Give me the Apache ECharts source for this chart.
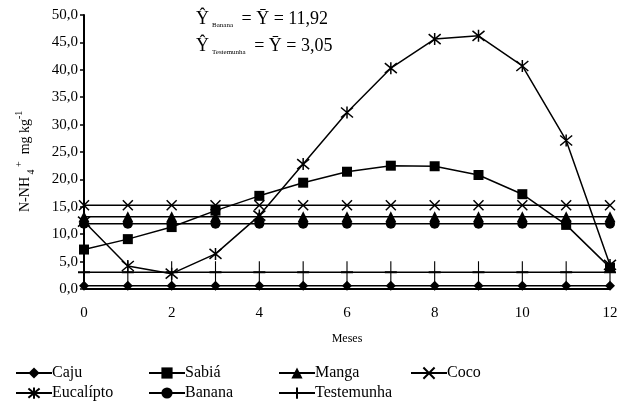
<!DOCTYPE html>
<html><head><meta charset="utf-8">
<script src="https://cdn.jsdelivr.net/npm/echarts@6/dist/echarts.min.js"></script>
<style>html,body{margin:0;padding:0;background:#fff}#c{width:626px;height:406px}</style>
</head><body><div id="c"></div>
<script>
const months = [0,1,2,3,4,5,6,7,8,9,10,11,12];
const caju = [0.6,0.6,0.6,0.6,0.6,0.6,0.6,0.6,0.6,0.6,0.6,0.6,0.6];
const sabia = [7.2,9.1,11.3,14.3,17.0,19.4,21.4,22.5,22.4,20.8,17.3,11.7,3.9];
const manga = [13.2,13.2,13.2,13.2,13.2,13.2,13.2,13.2,13.2,13.2,13.2,13.2,13.2];
const coco = [15.3,15.3,15.3,15.3,15.3,15.3,15.3,15.3,15.3,15.3,15.3,15.3,15.3];
const eucalipto = [12.3,4.2,2.8,6.4,13.4,22.8,32.2,40.3,45.6,46.2,40.7,27.1,4.4];
const banana = [11.92,11.92,11.92,11.92,11.92,11.92,11.92,11.92,11.92,11.92,11.92,11.92,11.92];
const testemunha = [3.05,3.05,3.05,3.05,3.05,3.05,3.05,3.05,3.05,3.05,3.05,3.05,3.05];
const yTicks = [0,5,10,15,20,25,30,35,40,45,50];

const F = 'Liberation Serif';
const pts = arr => months.map((m,i)=>[m, arr[i]]);
const X_PATH = 'path://M0,0 L10,10 M10,0 L0,10';
const AST_PATH = 'path://M0,0 L10,10 M10,0 L0,10 M5,-1 L5,11';
const PLUS_PATH = 'path://M5,0 L5,10 M0,5 L10,5';

function mk(name, data, symbol, size, stroked){
  return {
    name, type:'line', data:pts(data), symbol, symbolSize:size,
    color:'#000',
    lineStyle:{color:'#000', width:1.5},
    itemStyle: stroked ? {color:'none', borderColor:'#000', borderWidth:1.5} : {color:'#000', borderWidth:0},
    emphasis:{disabled:true}, animation:false, z: 2
  };
}
const series = [
  mk('Caju', caju, 'diamond', 10, false),
  mk('Sabiá', sabia, 'rect', 10, false),
  mk('Manga', manga, 'triangle', 11, false),
  mk('Coco', coco, X_PATH, 10, true),
  mk('Eucalípto', eucalipto, AST_PATH, 12, true),
  mk('Banana', banana, 'circle', 10, false),
  mk('Testemunha', testemunha, PLUS_PATH, [12,22], true)
];

function legend(left, names){
  return {left, top:365, height:60, width:160, padding:0, orient:'vertical', itemGap:4, itemWidth:36, itemHeight:14,
    data:names, selectedMode:false,
    textStyle:{fontFamily:F, fontSize:16, color:'#000', padding:[0,0,0,-5]}};
}

const chart = echarts.init(document.getElementById('c'));
chart.setOption({
  backgroundColor:'#fff',
  animation:false,
  grid:{left:84, right:16, top:15, bottom:117},
  xAxis:{type:'value', min:0, max:12, interval:2,
    axisLine:{lineStyle:{color:'#000', width:2}},
    axisTick:{show:false}, splitLine:{show:false},
    axisLabel:{fontFamily:F, fontSize:15, color:'#000', margin:17},
    name:'Meses', nameLocation:'middle', nameGap:44,
    nameTextStyle:{fontFamily:F, fontSize:12, color:'#000'}},
  yAxis:{type:'value', min:yTicks[0], max:yTicks[yTicks.length-1], interval:5,
    axisLine:{show:true, lineStyle:{color:'#000', width:2}},
    axisTick:{show:true, length:4, lineStyle:{color:'#000', width:1.5}},
    splitLine:{show:false},
    axisLabel:{fontFamily:F, fontSize:15, color:'#000', margin:6,
      formatter:v=>v.toFixed(1).replace('.',',')}},
  legend:[
    legend(15, ['Caju','Eucalípto']),
    legend(148, ['Sabiá','Banana']),
    legend(278, ['Manga','Testemunha']),
    legend(410, ['Coco'])
  ],
  graphic:[
    {type:'text', left:196, top:10, style:{
      text:'{y|Ŷ}{s|Banana}{y| = Ȳ = 11,92}',
      rich:{y:{fontFamily:F, fontSize:18, fill:'#000', verticalAlign:'top', lineHeight:24},
            s:{fontFamily:F, fontSize:7, fill:'#000', verticalAlign:'bottom', lineHeight:12, padding:[0,4,5,3]}}}},
    {type:'text', left:196, top:37, style:{
      text:'{y|Ŷ}{s|Testemunha}{y| = Ȳ = 3,05}',
      rich:{y:{fontFamily:F, fontSize:18, fill:'#000', verticalAlign:'top', lineHeight:24},
            s:{fontFamily:F, fontSize:7, fill:'#000', verticalAlign:'bottom', lineHeight:12, padding:[0,4,5,3]}}}},
    {type:'text', x:14, y:212, rotation:Math.PI/2, style:{
      text:'{m|N-NH}{b| 4}{t| +}{m|  mg kg}{t|-1}',
      rich:{m:{fontFamily:F, fontSize:14, fill:'#000', verticalAlign:'middle', lineHeight:22},
            b:{fontFamily:F, fontSize:10, fill:'#000', verticalAlign:'bottom', lineHeight:22},
            t:{fontFamily:F, fontSize:10, fill:'#000', verticalAlign:'top', lineHeight:22}}}}
  ],
  series
});
</script></body></html>
